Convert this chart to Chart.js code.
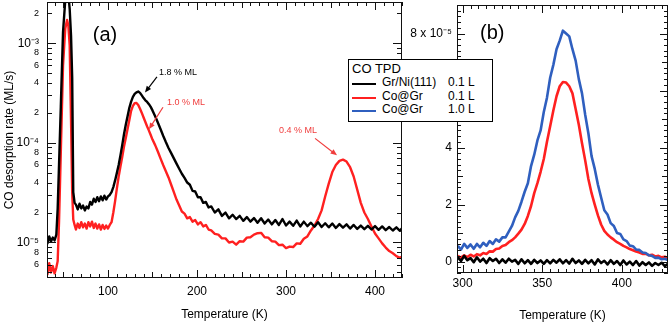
<!DOCTYPE html>
<html lang="en">
<head>
  <meta charset="UTF-8">
  <title>CO TPD</title>
  <script src="https://cdn.jsdelivr.net/npm/chart.js"></script>
  <style>
    body { margin: 0; background: #fff; font-family: "Liberation Sans", Arial, sans-serif; }
    #wrap { position: relative; width: 670px; height: 324px; }
    canvas { position: absolute; top: 0; }
    #legend { position: absolute; left: 348px; top: 59px; width: 145px; height: 63px; box-sizing: border-box;
              border: 1.5px solid #000; background: #fff; font-size: 12px; color: #000; }
    #legend span { position: absolute; line-height: 13px; white-space: nowrap; }
    #legend .sw { height: 2px; width: 24px; left: 3px; }
  </style>
</head>
<body>
<div id="wrap">
  <canvas id="tpdA" width="410" height="324" style="left:0"></canvas>
  <canvas id="tpdB" width="270" height="324" style="left:400px"></canvas>
  <div id="legend">
    <span style="left:3px;top:2px;font-size:13px">CO TPD</span>
    <span class="sw" style="top:23px;background:#000"></span>
    <span style="left:33px;top:16px">Gr/Ni(111)</span>
    <span style="left:99px;top:16px">0.1 L</span>
    <span class="sw" style="top:37px;background:#ff2020"></span>
    <span style="left:33px;top:30px">Co@Gr</span>
    <span style="left:99px;top:30px">0.1 L</span>
    <span class="sw" style="top:50px;background:#2f5fbf"></span>
    <span style="left:33px;top:43px">Co@Gr</span>
    <span style="left:99px;top:43px">1.0 L</span>
  </div>
</div>

<script>
  // panel (a): log scale, temperature in K, rate in ML/s
  const tempA = [30, 32, 34, 36, 38, 40, 42,
    43.5, 45, 47, 49.5, 52, 54, 55.5, 57, 58.5, 59.8, 61, 62.5,
    64, 66, 68, 70, 72, 74, 76, 78, 80, 82, 84, 86, 88, 90, 92, 94, 96, 98, 100, 102,
    104, 106, 108, 110, 112, 114, 116, 118, 120, 122, 124, 126, 128, 130, 132, 134, 136, 138, 140, 142, 144, 146, 148, 150,
    153, 156, 159, 162, 165, 168, 171, 174, 177, 180, 183, 186, 189, 192, 195, 198, 201, 204, 207, 210, 213,
    216, 220, 224, 228, 232, 236, 240, 244, 248, 252, 256, 260, 264, 268, 272, 276, 280, 284, 288, 292,
    296, 300, 304, 308, 312, 316, 320, 324, 328, 332, 336, 340, 344, 348, 352, 356, 360, 364, 368, 372,
    376, 380, 384, 388, 392, 396, 400, 404, 408, 412, 416, 420, 424, 428, 430];

  const rateGrNiA = [1.1e-5, 0.98e-5, 1.15e-5, 1.02e-5, 1.12e-5, 1.05e-5, 1.2e-5,
    2.2e-5, 6e-5, 2.3e-4, 1.3e-3, 2.7e-3, 3.4e-3, 3.1e-3, 2.2e-3, 1.2e-3, 4.5e-4, 3.2e-5, 2.5e-5,
    2.4e-5, 2.15e-5, 2.45e-5, 2.2e-5, 2.35e-5, 2.1e-5, 2.3e-5, 2.2e-5, 2.55e-5, 2.4e-5, 2.75e-5, 2.55e-5, 2.85e-5, 2.6e-5, 2.9e-5, 2.65e-5, 2.95e-5, 2.7e-5, 2.9e-5, 3.0e-5,
    3.2e-5, 3.6e-5, 4.2e-5, 5e-5, 6e-5, 7.5e-5, 9.5e-5, 1.22e-4, 1.52e-4, 1.85e-4, 2.25e-4, 2.6e-4, 2.9e-4, 3.1e-4, 3.22e-4, 3.28e-4, 3.18e-4, 3.0e-4, 2.82e-4, 2.68e-4, 2.58e-4, 2.45e-4, 2.3e-4, 2.12e-4,
    1.85e-4, 1.6e-4, 1.38e-4, 1.18e-4, 1.02e-4, 8.9e-5, 7.9e-5, 7.0e-5, 6.2e-5, 5.5e-5, 4.9e-5, 4.45e-5, 4.0e-5, 3.8e-5, 3.3e-5, 3.25e-5, 2.85e-5, 2.85e-5, 2.5e-5, 2.55e-5, 2.25e-5,
    2.3e-5, 2.0e-5, 2.15e-5, 1.85e-5, 2.0e-5, 1.75e-5, 1.9e-5, 1.72e-5, 1.85e-5, 1.65e-5, 1.8e-5, 1.62e-5, 1.76e-5, 1.58e-5, 1.75e-5, 1.55e-5, 1.7e-5, 1.52e-5, 1.68e-5, 1.5e-5,
    1.72e-5, 1.48e-5, 1.62e-5, 1.47e-5, 1.66e-5, 1.45e-5, 1.62e-5, 1.46e-5, 1.58e-5, 1.44e-5, 1.6e-5, 1.43e-5, 1.56e-5, 1.42e-5, 1.55e-5, 1.4e-5, 1.53e-5, 1.41e-5, 1.52e-5, 1.38e-5,
    1.5e-5, 1.37e-5, 1.48e-5, 1.36e-5, 1.47e-5, 1.35e-5, 1.46e-5, 1.34e-5, 1.45e-5, 1.33e-5, 1.43e-5, 1.32e-5, 1.42e-5, 1.31e-5, 1.38e-5];

  const rateCoGrA = [5.5e-6, 4.8e-6, 6.2e-6, 5.0e-6, 5.8e-6, 4.9e-6, 5.6e-6,
    6.5e-6, 1.6e-5, 8e-5, 6e-4, 1.4e-3, 1.72e-3, 1.5e-3, 9.5e-4, 1.7e-4, 3.2e-5, 1.7e-5, 1.5e-5,
    1.35e-5, 1.55e-5, 1.4e-5, 1.6e-5, 1.42e-5, 1.55e-5, 1.38e-5, 1.6e-5, 1.45e-5, 1.62e-5, 1.4e-5, 1.55e-5, 1.38e-5, 1.52e-5, 1.35e-5, 1.5e-5, 1.37e-5, 1.48e-5, 1.38e-5, 1.5e-5,
    1.6e-5, 2.0e-5, 2.6e-5, 3.5e-5, 4.6e-5, 5.8e-5, 7.2e-5, 9.2e-5, 1.12e-4, 1.38e-4, 1.7e-4, 2.1e-4, 2.35e-4, 2.5e-4, 2.52e-4, 2.4e-4, 2.2e-4, 2.0e-4, 1.8e-4, 1.62e-4, 1.46e-4, 1.33e-4, 1.2e-4, 1.08e-4,
    9.5e-5, 8.2e-5, 7.0e-5, 6.0e-5, 5.2e-5, 4.5e-5, 3.8e-5, 3.2e-5, 2.7e-5, 2.35e-5, 2.05e-5, 1.95e-5, 1.75e-5, 1.8e-5, 1.62e-5, 1.68e-5, 1.52e-5, 1.6e-5, 1.45e-5, 1.5e-5, 1.35e-5,
    1.32e-5, 1.22e-5, 1.2e-5, 1.1e-5, 1.1e-5, 1.0e-5, 1.02e-5, 0.95e-5, 1.03e-5, 1.02e-5, 1.12e-5, 1.13e-5, 1.2e-5, 1.24e-5, 1.25e-5, 1.13e-5, 1.12e-5, 1.03e-5, 1.02e-5, 0.94e-5,
    0.95e-5, 0.88e-5, 0.91e-5, 0.9e-5, 0.98e-5, 0.97e-5, 1.09e-5, 1.15e-5, 1.32e-5, 1.48e-5, 1.72e-5, 2.1e-5, 2.9e-5, 3.9e-5, 5.1e-5, 6.0e-5, 6.6e-5, 6.8e-5, 6.5e-5, 5.7e-5,
    4.6e-5, 3.4e-5, 2.5e-5, 2.0e-5, 1.72e-5, 1.45e-5, 1.23e-5, 1.1e-5, 0.98e-5, 0.89e-5, 0.82e-5, 0.78e-5, 0.73e-5, 0.7e-5, 0.72e-5];

  const logTickVals = [6e-6, 8e-6, 1e-5, 2e-5, 4e-5, 6e-5, 8e-5, 1e-4, 2e-4, 4e-4, 6e-4, 8e-4, 1e-3, 2e-3];
  const logTickText = ['6', '8', '10\u207B\u2075', '2', '4', '6', '8', '10\u207B\u2074', '2', '4', '6', '8', '10\u207B\u00B3', '2'];
  const tempTicksA = [100, 200, 300, 400];

  // panel (b): linear scale, rate in units of 1e-5 ML/s
  const tempB = [297, 299, 301, 303, 305, 307, 309, 311, 313, 315, 317, 319, 321, 323, 325, 327, 329, 331, 333, 335,
    337, 339, 341, 343, 345, 347, 349, 351, 353, 355, 357, 359, 361, 363, 365, 367, 369, 371, 373, 375,
    377, 379, 381, 383, 385, 387, 389, 391, 393, 395, 397, 399, 401, 403, 405, 407, 409, 411, 413, 415,
    417, 419, 421, 423, 425, 427, 429];

  const rateGrNiB = [0.15, 0.02, 0.2, 0.05, 0.12, -0.02, 0.15, 0.0, 0.1, -0.05,
    0.12, 0.02, 0.1, -0.05, 0.08, -0.04, 0.1, 0.0, 0.06, -0.08,
    0.08, -0.06, 0.05, -0.08, 0.06, -0.05, 0.04, -0.08, 0.05, -0.06,
    0.06, -0.04, 0.08, -0.06, 0.05, -0.07, 0.1, -0.05, 0.04, -0.08,
    0.06, -0.06, 0.05, -0.1, 0.08, -0.05, 0.03, -0.1, 0.05, -0.08,
    0.02, -0.12, 0.04, -0.1, 0.0, -0.12, 0.02, -0.14, -0.02, -0.12,
    -0.03, -0.15, -0.05, -0.12, -0.04, -0.16, -0.08];

  const rateCoGr01B = [0.2, 0.14, 0.22, 0.16, 0.24, 0.18, 0.26, 0.22, 0.3, 0.27,
    0.36, 0.35, 0.44, 0.46, 0.55, 0.58, 0.68, 0.75, 0.85, 0.98,
    1.12, 1.32, 1.6, 1.95, 2.4, 2.75, 3.15, 3.6, 4.2, 4.75,
    5.3, 5.8, 6.15, 6.3, 6.28, 6.15, 5.9, 5.35, 4.8, 4.15,
    3.55, 2.9, 2.4, 2.0, 1.62, 1.3, 1.08, 0.95, 0.85, 0.77,
    0.68, 0.62, 0.55, 0.5, 0.44, 0.4, 0.35, 0.32, 0.27, 0.28,
    0.22, 0.24, 0.18, 0.2, 0.15, 0.17, 0.12];

  const rateCoGr10B = [0.55, 0.42, 0.62, 0.48, 0.6, 0.45, 0.62, 0.5, 0.66, 0.55,
    0.72, 0.62, 0.78, 0.7, 0.85, 0.85, 1.05, 1.25, 1.55, 1.78,
    2.1, 2.45, 2.75, 3.35, 3.75, 4.25, 4.6, 5.25, 5.75, 6.45,
    6.9, 7.45, 7.75, 8.1, 8.0, 7.9, 7.45, 7.05, 6.4, 5.9,
    5.15, 4.5, 3.7, 3.25, 2.7, 2.25, 1.8, 1.65, 1.35, 1.25,
    1.0, 0.97, 0.78, 0.72, 0.56, 0.54, 0.42, 0.41, 0.32, 0.3,
    0.22, 0.2, 0.13, 0.14, 0.08, 0.1, 0.05];

  const rateTicksB = [0, 2, 4, 6, 8];
  const rateTickTextB = ['0', '2', '4', '6', '8 x 10\u207B\u2075'];
  const tempTicksB = [300, 350, 400];

  const FONT = '"Liberation Sans", Arial, sans-serif';
  Chart.defaults.font.family = FONT;
  Chart.defaults.color = '#000';

  const toXY = (xs, ys) => xs.map((x, i) => ({x: x, y: ys[i]}));

  // box round the plot with inward tick marks on all four sides
  function frameTicks(xMarks, yMarks) {
    return {
      id: 'frameTicks',
      afterDatasetsDraw(chart) {
        const {ctx, chartArea: a} = chart;
        const xs = chart.scales.x, ys = chart.scales.y;
        ctx.save();
        ctx.strokeStyle = '#111';
        ctx.lineWidth = 1;
        ctx.beginPath();
        xMarks.forEach(([v, len]) => {
          const p = Math.round(xs.getPixelForValue(v)) + 0.5;
          ctx.moveTo(p, a.bottom); ctx.lineTo(p, a.bottom - len);
          ctx.moveTo(p, a.top); ctx.lineTo(p, a.top + len);
        });
        yMarks.forEach(([v, len]) => {
          const p = Math.round(ys.getPixelForValue(v)) + 0.5;
          ctx.moveTo(a.left, p); ctx.lineTo(a.left + len, p);
          ctx.moveTo(a.right, p); ctx.lineTo(a.right - len, p);
        });
        ctx.stroke();
        ctx.strokeRect(a.left + 0.5, a.top + 0.5, a.width - 1, a.height - 1);
        ctx.restore();
      }
    };
  }

  // text labels and arrows, placed in data coordinates
  function notes(items) {
    return {
      id: 'notes',
      afterDraw(chart) {
        const {ctx} = chart;
        const xs = chart.scales.x, ys = chart.scales.y;
        ctx.save();
        items.forEach(n => {
          ctx.fillStyle = n.color;
          ctx.strokeStyle = n.color;
          ctx.font = n.size + 'px ' + FONT;
          ctx.textAlign = 'center';
          ctx.textBaseline = 'middle';
          ctx.fillText(n.text, xs.getPixelForValue(n.x), ys.getPixelForValue(n.y));
          if (n.arrow) {
            const x1 = xs.getPixelForValue(n.arrow[0]), y1 = ys.getPixelForValue(n.arrow[1]);
            const x2 = xs.getPixelForValue(n.arrow[2]), y2 = ys.getPixelForValue(n.arrow[3]);
            const ang = Math.atan2(y2 - y1, x2 - x1);
            ctx.lineWidth = 1.2;
            ctx.beginPath();
            ctx.moveTo(x1, y1);
            ctx.lineTo(x2 - 4 * Math.cos(ang), y2 - 4 * Math.sin(ang));
            ctx.stroke();
            ctx.beginPath();
            ctx.moveTo(x2, y2);
            ctx.lineTo(x2 - 7 * Math.cos(ang - 0.4), y2 - 7 * Math.sin(ang - 0.4));
            ctx.lineTo(x2 - 7 * Math.cos(ang + 0.4), y2 - 7 * Math.sin(ang + 0.4));
            ctx.closePath();
            ctx.fill();
          }
        });
        ctx.restore();
      }
    };
  }

  const yMinA = 4.4e-6, yMaxA = 2.6e-3;
  const xMarksA = [];
  for (let t = 40; t <= 430; t += 10) xMarksA.push([t, t % 100 === 0 ? 8 : (t % 50 === 0 ? 6 : 4)]);
  const yMarksA = [];
  for (let e = -6; e <= -3; e++) {
    for (let m = 1; m <= 9; m++) {
      const v = m * Math.pow(10, e);
      if (v >= yMinA && v <= yMaxA) yMarksA.push([v, m === 1 ? 9 : 5]);
    }
  }

  const xMarksB = [];
  for (let t = 300; t <= 425; t += 5) xMarksB.push([t, t % 50 === 0 ? 8 : 4]);
  const yMarksB = [];
  for (let k = -2; k <= 45; k++) {
    const v = k / 5;
    yMarksB.push([v, k % 10 === 0 ? 8 : (k % 5 === 0 ? 6 : 4)]);
  }

  const red = '#ff2020';
  const redText = '#f03c3c';
  const blue = '#2f5fbf';

  new Chart(document.getElementById('tpdA'), {
    type: 'line',
    data: {
      datasets: [
        {label: 'Gr/Ni(111) 0.1 L', data: toXY(tempA, rateGrNiA), borderColor: '#000', borderWidth: 2.4, order: 0},
        {label: 'Co@Gr 0.1 L', data: toXY(tempA, rateCoGrA), borderColor: red, borderWidth: 2.4, order: 1}
      ]
    },
    options: {
      responsive: false,
      animation: false,
      devicePixelRatio: 1,
      layout: {padding: {top: 2, right: 8, left: 0, bottom: 0}},
      elements: {point: {radius: 0}, line: {tension: 0, borderJoinStyle: 'round'}},
      plugins: {legend: {display: false}, tooltip: {enabled: false}},
      scales: {
        x: {
          type: 'linear', min: 31.5, max: 430.3, bounds: 'data',
          grid: {display: false, drawTicks: false}, border: {display: false},
          ticks: {padding: 6, autoSkip: false, maxRotation: 0, color: '#000', font: {size: 12}},
          title: {display: true, text: 'Temperature (K)', color: '#000', font: {size: 12}, padding: {top: 0, bottom: 2}},
          afterBuildTicks: s => { s.ticks = tempTicksA.map(v => ({value: v})); },
          afterFit: s => { s.height = 46; s.paddingLeft = 0; s.paddingRight = 0; }
        },
        y: {
          type: 'logarithmic', min: yMinA, max: yMaxA, bounds: 'data',
          grid: {display: false, drawTicks: false}, border: {display: false},
          ticks: {
            padding: 8, autoSkip: false, color: '#000',
            callback: (v, i) => logTickText[i],
            font: c => ({family: FONT, size: (logTickText[c.index] || '').startsWith('10') ? 12 : 9})
          },
          title: {display: true, text: 'CO desorption rate (ML/s)', color: '#000', font: {size: 12}, padding: {top: 2, bottom: 2}},
          afterBuildTicks: s => { s.ticks = logTickVals.map(v => ({value: v})); },
          afterFit: s => { s.width = 47; s.paddingTop = 0; s.paddingBottom = 0; }
        }
      }
    },
    plugins: [
      frameTicks(xMarksA, yMarksA),
      notes([
        {text: '(a)', x: 96.6, y: 1.2e-3, size: 20, color: '#000'},
        {text: '1.8 % ML', x: 178.7, y: 5.1e-4, size: 9, color: '#000', arrow: [155, 4.6e-4, 141.6, 3.2e-4]},
        {text: '1.0 % ML', x: 187.6, y: 2.55e-4, size: 9, color: redText, arrow: [161.8, 2.28e-4, 146, 1.37e-4]},
        {text: '0.4 % ML', x: 313.5, y: 1.34e-4, size: 9, color: redText, arrow: [332.6, 1.11e-4, 357.3, 7.5e-5]}
      ])
    ]
  });

  new Chart(document.getElementById('tpdB'), {
    type: 'line',
    data: {
      datasets: [
        {label: 'Gr/Ni(111) 0.1 L', data: toXY(tempB, rateGrNiB), borderColor: '#000', borderWidth: 2.6, order: 0},
        {label: 'Co@Gr 0.1 L', data: toXY(tempB, rateCoGr01B), borderColor: red, borderWidth: 2.6, order: 2},
        {label: 'Co@Gr 1.0 L', data: toXY(tempB, rateCoGr10B), borderColor: blue, borderWidth: 2.6, order: 1}
      ]
    },
    options: {
      responsive: false,
      animation: false,
      devicePixelRatio: 1,
      layout: {padding: {top: 5, right: 2, left: 0, bottom: 0}},
      elements: {point: {radius: 0}, line: {tension: 0, borderJoinStyle: 'round'}},
      plugins: {legend: {display: false}, tooltip: {enabled: false}},
      scales: {
        x: {
          type: 'linear', min: 296.5, max: 429, bounds: 'data',
          grid: {display: false, drawTicks: false}, border: {display: false},
          ticks: {padding: 3, autoSkip: false, maxRotation: 0, color: '#000', font: {size: 12}},
          title: {display: true, text: 'Temperature (K)', color: '#000', font: {size: 12}, padding: {top: 0, bottom: 1}},
          afterBuildTicks: s => { s.ticks = tempTicksB.map(v => ({value: v})); },
          afterFit: s => { s.height = 51; s.paddingLeft = 0; s.paddingRight = 0; }
        },
        y: {
          type: 'linear', min: -0.4, max: 9.0, bounds: 'data',
          grid: {display: false, drawTicks: false}, border: {display: false},
          ticks: {padding: 5, autoSkip: false, color: '#000', font: {size: 12},
            callback: (v, i) => rateTickTextB[i]},
          afterBuildTicks: s => { s.ticks = rateTicksB.map(v => ({value: v})); },
          afterFit: s => { s.width = 57; s.paddingTop = 0; s.paddingBottom = 0; }
        }
      }
    },
    plugins: [
      frameTicks(xMarksB, yMarksB),
      notes([
        {text: '(b)', x: 318.6, y: 8.0, size: 20, color: '#000'}
      ])
    ]
  });
</script>
</body>
</html>
